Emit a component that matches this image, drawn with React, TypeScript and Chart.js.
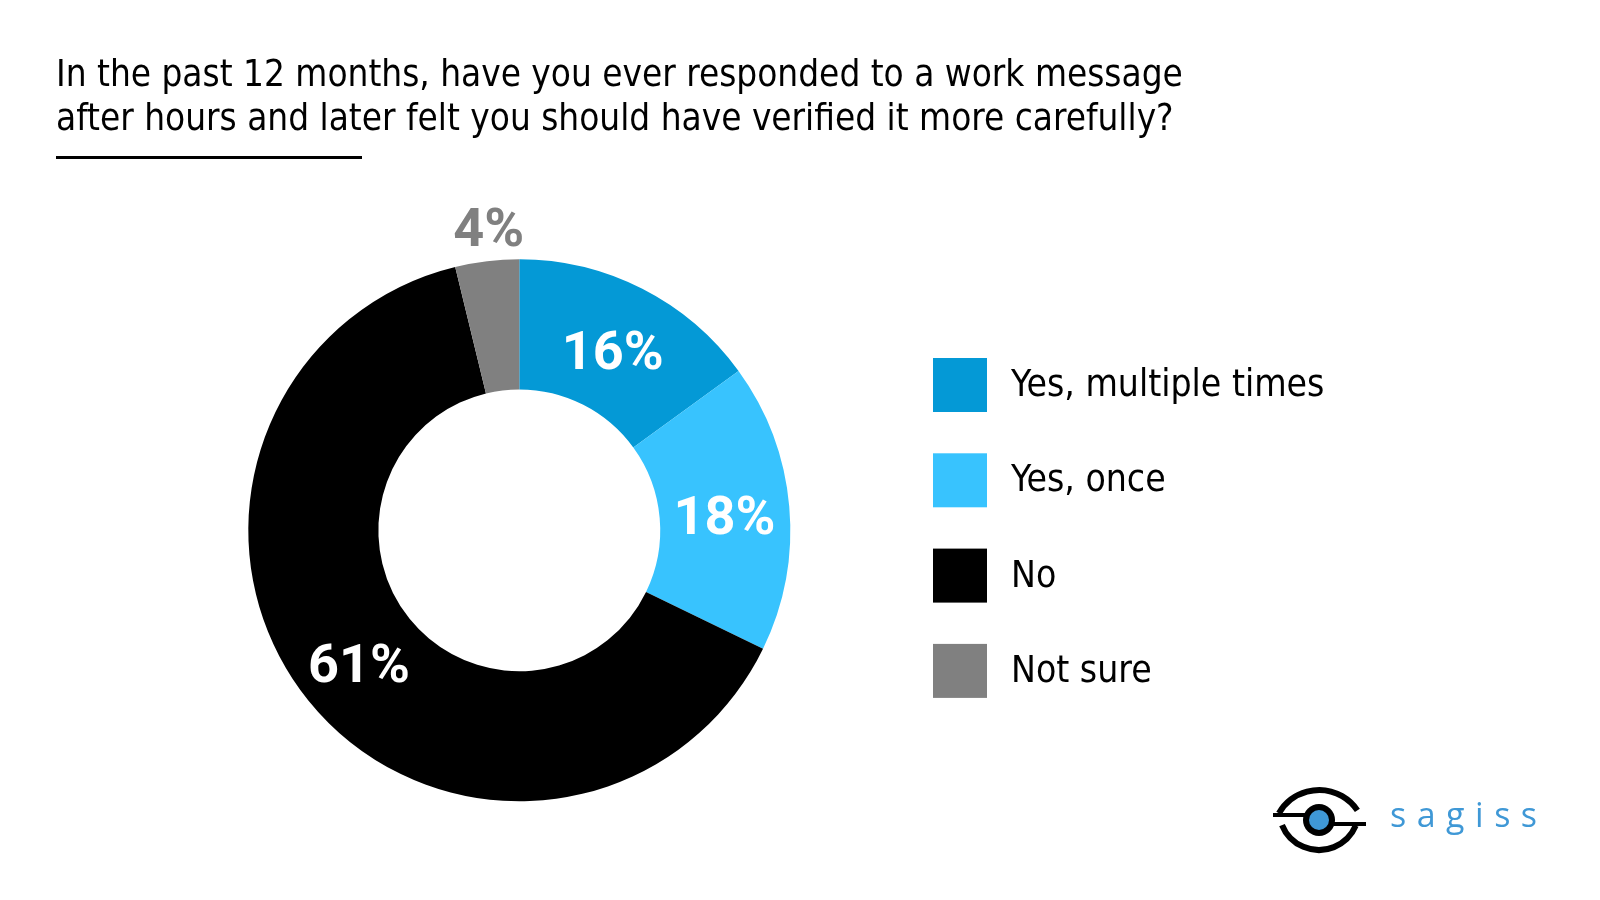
import React, { useEffect, useRef } from "react";
import { Chart, registerables } from "chart.js";

Chart.register(...registerables);

const titleLines = [
  "In the past 12 months, have you ever responded to a work message",
  "after hours and later felt you should have verified it more carefully?",
];
const categories = ["Yes, multiple times", "Yes, once", "No", "Not sure"];
// slice shares as drawn in the picture (angles), and the printed labels
const shares = [15.0, 17.2, 64.0, 3.8];
const labelTexts = ["16%", "18%", "61%", "4%"];
const sliceColors = ["#0499D6", "#38C3FE", "#000000", "#808080"];
const outsideLabel = [false, false, false, true];
const brandName = "sagiss";

const TITLE_FONT = '36.6px "DejaVu Sans Condensed", "DejaVu Sans", sans-serif';
const LEGEND_FONT = '37px "DejaVu Sans Condensed", "DejaVu Sans", sans-serif';
const PCT_FONT = 'bold 54px Roboto, "Open Sans", sans-serif';

const decorPlugin = {
  id: "decor",
  afterDraw(chart: any) {
    const ctx = chart.ctx as CanvasRenderingContext2D;
    ctx.save();
    // title
    ctx.fillStyle = "#000";
    ctx.font = TITLE_FONT;
    ctx.textAlign = "left";
    ctx.textBaseline = "alphabetic";
    ctx.fillText(titleLines[0], 56, 86);
    ctx.fillText(titleLines[1], 56, 130);
    // underline
    ctx.fillStyle = "#000";
    ctx.fillRect(56, 156, 306, 3);

    // percentage labels
    const meta = chart.getDatasetMeta(0);
    ctx.font = PCT_FONT;
    ctx.textAlign = "center";
    ctx.textBaseline = "alphabetic";
    meta.data.forEach((el: any, i: number) => {
      const p = el.getProps(["x", "y", "startAngle", "endAngle", "innerRadius", "outerRadius"], true);
      const mid = (p.startAngle + p.endAngle) / 2;
      const r = outsideLabel[i] ? p.outerRadius + 37 : (p.innerRadius + p.outerRadius) / 2;
      const lx = p.x + Math.cos(mid) * r + (outsideLabel[i] ? 6 : 0);
      const ly = p.y + Math.sin(mid) * r;
      ctx.fillStyle = outsideLabel[i] ? sliceColors[i] : "#FFFFFF";
      ctx.fillText(labelTexts[i], lx, ly + 22);
    });

    // legend
    const legendX = 933;
    const legendTop = 358;
    const legendStep = 95.3;
    const box = 54;
    ctx.font = LEGEND_FONT;
    ctx.textAlign = "left";
    ctx.textBaseline = "alphabetic";
    categories.forEach((c, i) => {
      const y = legendTop + i * legendStep;
      ctx.fillStyle = sliceColors[i];
      ctx.fillRect(legendX, y, box, box);
      ctx.fillStyle = "#000";
      ctx.fillText(c, 1011, y + 38);
    });

    // logo: eye
    ctx.strokeStyle = "#000";
    ctx.lineCap = "butt";
    ctx.lineWidth = 6;
    ctx.beginPath();
    ctx.arc(1319, 836.3, 46.3, (210 * Math.PI) / 180, (326 * Math.PI) / 180);
    ctx.stroke();
    ctx.beginPath();
    ctx.arc(1319, 810.1, 39.9, (23 * Math.PI) / 180, (158 * Math.PI) / 180);
    ctx.stroke();
    ctx.lineWidth = 4;
    ctx.beginPath();
    ctx.moveTo(1273, 815);
    ctx.lineTo(1305, 815);
    ctx.moveTo(1334, 824);
    ctx.lineTo(1366, 824);
    ctx.stroke();
    ctx.fillStyle = "#000";
    ctx.beginPath();
    ctx.arc(1319, 820, 16, 0, Math.PI * 2);
    ctx.fill();
    ctx.fillStyle = "#3F98D6";
    ctx.beginPath();
    ctx.arc(1319, 820, 10, 0, Math.PI * 2);
    ctx.fill();
    // logo text
    ctx.fillStyle = "#3F98D6";
    ctx.font = '34px "Open Sans", sans-serif';
    (ctx as any).letterSpacing = "10.5px";
    ctx.textAlign = "left";
    ctx.fillText(brandName, 1390, 827);
    (ctx as any).letterSpacing = "0px";
    ctx.restore();
  },
};

export default function App() {
  const ref = useRef<HTMLCanvasElement | null>(null);
  useEffect(() => {
    if (!ref.current) return;
    const chart = new Chart(ref.current, {
      type: "doughnut",
      data: {
        labels: categories,
        datasets: [
          {
            data: shares,
            backgroundColor: sliceColors,
            borderWidth: 0,
            hoverOffset: 0,
          },
        ],
      },
      options: {
        responsive: false,
        animation: false,
        devicePixelRatio: 1,
        cutout: "52%",
        rotation: 0,
        layout: { padding: { left: 248.3, right: 809.7, top: 259.3, bottom: 98.7 } },
        plugins: {
          legend: { display: false },
          tooltip: { enabled: false },
          title: { display: false },
        },
        events: [],
      },
      plugins: [decorPlugin],
    });
    return () => chart.destroy();
  }, []);
  return (
    <div style={{ position: "fixed", left: 0, top: 0, width: 1600, height: 900, background: "#fff" }}>
      <canvas ref={ref} width={1600} height={900} style={{ display: "block" }} />
    </div>
  );
}
